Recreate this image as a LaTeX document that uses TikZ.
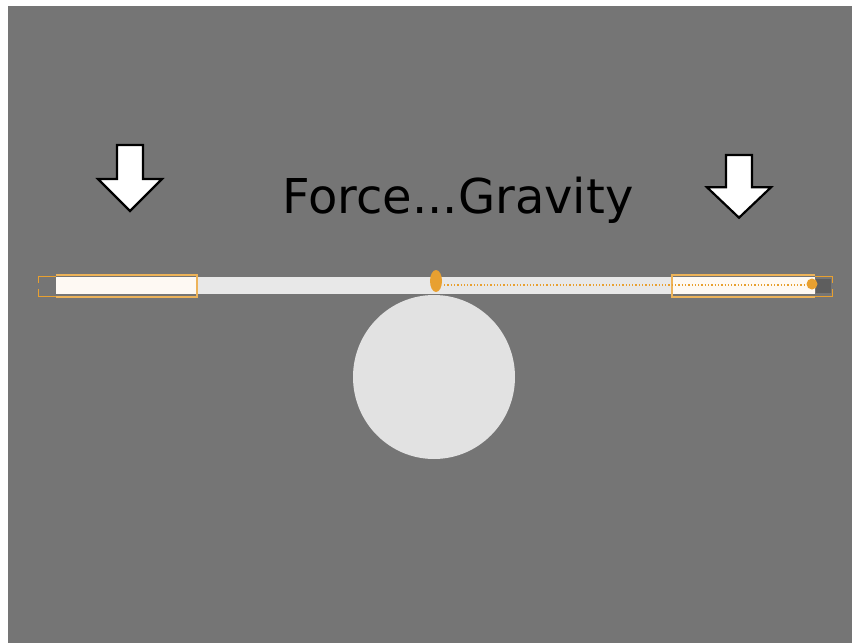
\documentclass[tikz,border=0pt]{standalone}
\usepackage{fontspec}
\setmainfont{DejaVu Sans}
\usepackage{tikz}
\usetikzlibrary{positioning,shapes.geometric}
\definecolor{bggrey}{RGB}{117,117,117}
\definecolor{barwhite}{RGB}{232,232,232}
\definecolor{selorange}{RGB}{232,160,48}
\definecolor{balllight}{RGB}{226,226,226}

\begin{document}
\begin{tikzpicture}[x=1pt, y=-1pt,
  sel/.style={draw=selorange!80!white, line width=1.4pt},
  pivot/.style={fill=selorange, draw=none},
  forcearrow/.pic={
    \draw[line width=2.2pt, fill=white, line join=miter]
      (-13,0) -- (13,0) -- (13,34) -- (32,34) -- (0,66) -- (-32,34) -- (-13,34) -- cycle;
  }]
  \useasboundingbox (0,0) rectangle (852,643);
  \fill[white] (0,0) rectangle (852,643);
  \fill[bggrey] (8,6) rectangle (852,643);

  % the ball under the plank
  \fill[balllight] (434,377) ellipse [x radius=81, y radius=82];

  % plank with its selected ends
  \fill[barwhite] (56,277) rectangle (815,294);
  \fill[white!94!selorange] (56,277) rectangle (197,294);
  \fill[white!94!selorange] (672,277) rectangle (815,294);
  \draw[sel] (56,275) -- (197,275) -- (197,297) -- (56,297);
  \draw[sel] (815,275) -- (672,275) -- (672,297) -- (815,297);
  \draw[selorange, line width=1pt] (56,276) -| (38,283) (38,289) |- (56,296);
  \draw[selorange, line width=1pt] (815,276) -| (832,283) (832,289) |- (815,296);
  \fill[bggrey!80!black] (816,279) rectangle (831,293);
  \draw[selorange, line width=1.3pt, dotted] (444,285) -- (808,285);

  % pivot points
  \node[pivot, ellipse, minimum width=12pt, minimum height=22pt, inner sep=0pt] (pv) at (436,281) {};
  \node[pivot, circle, minimum size=11pt, inner sep=0pt] (tip) at (812,284) {};

  % forces
  \pic at (130,145) {forcearrow};
  \pic[yscale=0.95] at (739,155) {forcearrow};
  \node[font=\fontsize{48}{54}\selectfont, inner sep=0pt, anchor=base] (label) at (458,213) {Force...Gravity};
\end{tikzpicture}
\end{document}
